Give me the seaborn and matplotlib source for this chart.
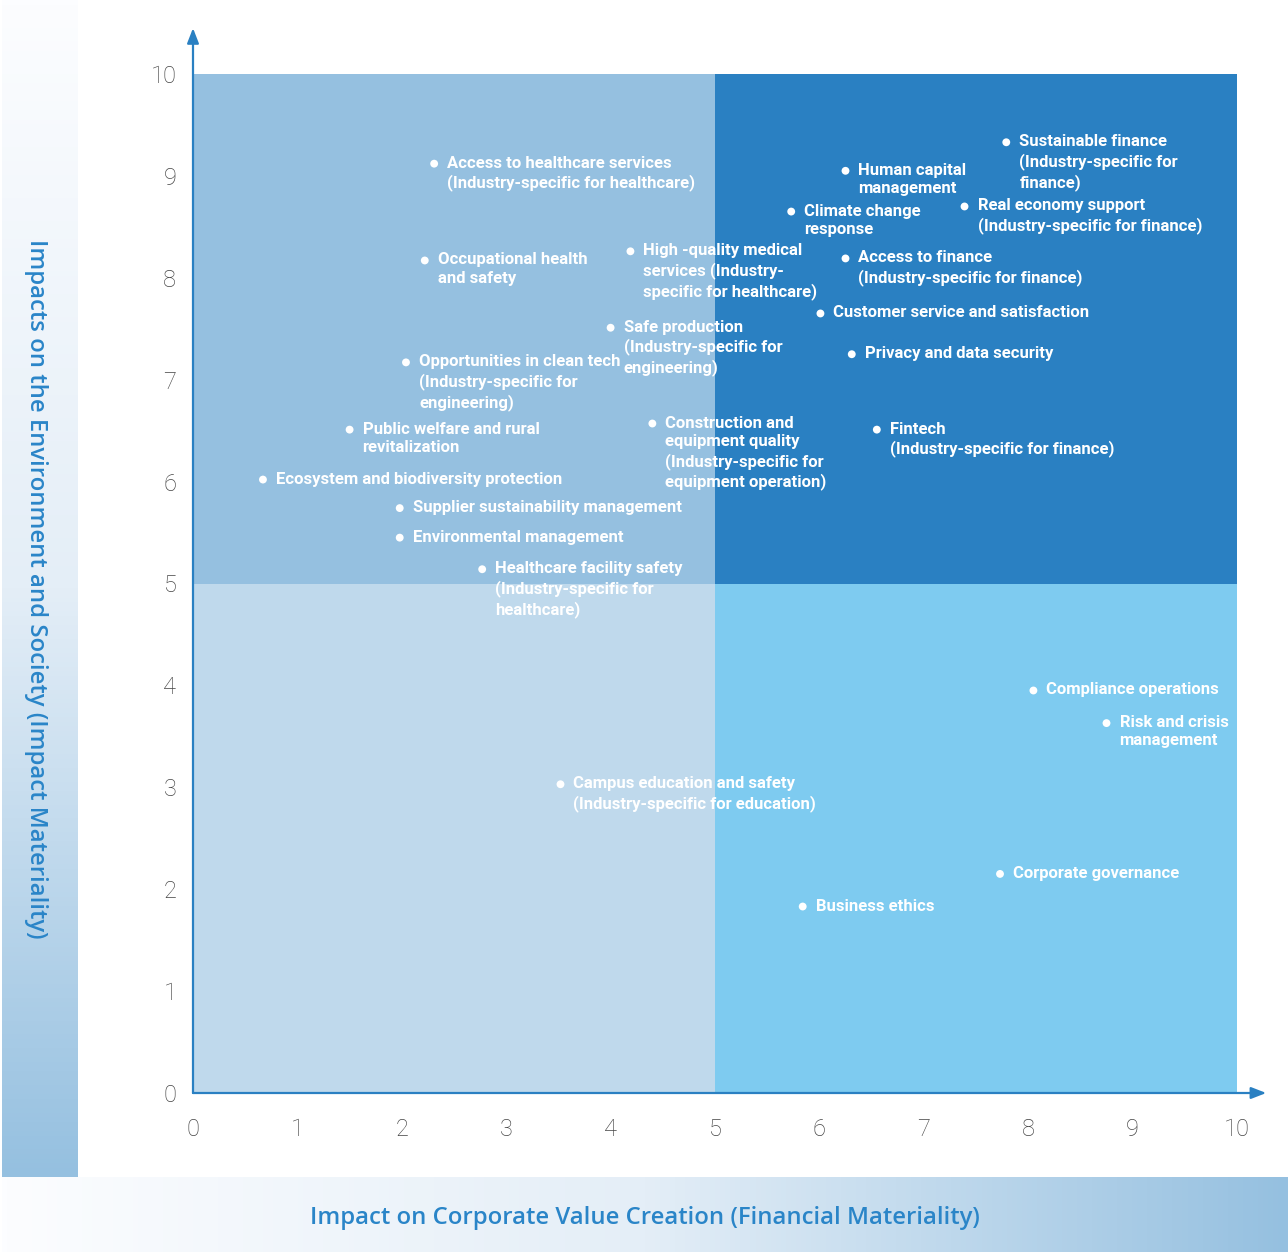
import numpy as np
import pandas as pd
import matplotlib
matplotlib.use("Agg")
import matplotlib.pyplot as plt
import seaborn as sns
from matplotlib.colors import LinearSegmentedColormap

# ----------------------------
# Data
# ----------------------------
topics = [
    "Access to healthcare services\n(Industry-specific for healthcare)",
    "Occupational health\nand safety",
    "Opportunities in clean tech\n(Industry-specific for\nengineering)",
    "Public welfare and rural\nrevitalization",
    "Ecosystem and biodiversity protection",
    "Supplier sustainability management",
    "Environmental management",
    "Healthcare facility safety\n(Industry-specific for\nhealthcare)",
    "Campus education and safety\n(Industry-specific for education)",
    "High -quality medical\nservices (Industry-\nspecific for healthcare)",
    "Safe production\n(Industry-specific for\nengineering)",
    "Construction and\nequipment quality\n(Industry-specific for\nequipment operation)",
    "Human capital\nmanagement",
    "Climate change\nresponse",
    "Sustainable finance\n(Industry-specific for\nfinance)",
    "Real economy support\n(Industry-specific for finance)",
    "Access to finance\n(Industry-specific for finance)",
    "Customer service and satisfaction",
    "Privacy and data security",
    "Fintech\n(Industry-specific for finance)",
    "Compliance operations",
    "Risk and crisis\nmanagement",
    "Corporate governance",
    "Business ethics",
]
financial = [2.31, 2.22, 2.04, 1.50, 0.67, 1.98, 1.98, 2.77, 3.52,
             4.19, 4.00, 4.40, 6.25, 5.73, 7.79, 7.39, 6.25, 6.01,
             6.31, 6.55, 8.05, 8.75, 7.73, 5.84]
impact = [9.12, 8.17, 7.17, 6.51, 6.02, 5.74, 5.45, 5.14, 3.03,
          8.26, 7.51, 6.57, 9.05, 8.65, 9.33, 8.70, 8.19, 7.65,
          7.25, 6.51, 3.95, 3.63, 2.15, 1.83]

ticks = list(range(0, 11))
quad_x = [(0, 5), (5, 10), (0, 5), (5, 10)]
quad_y = [(5, 10), (5, 10), (0, 5), (0, 5)]
quad_colors = ["#95c0e0", "#2a80c2", "#bfd9ec", "#7ecbf0"]

df = pd.DataFrame({"topic": topics, "financial": financial, "impact": impact})

# ----------------------------
# Figure
# ----------------------------
sns.set_style("white")
plt.rcParams['font.family'] = ['Roboto', 'DejaVu Sans']

W, H = 1288, 1252
fig = plt.figure(figsize=(W / 100, H / 100), dpi=100)

band_cmap = LinearSegmentedColormap.from_list("band", ["#fcfdff", "#e4eef7", "#95c0e0"])
label_font = dict(fontsize=17.2, color="#2a85c8", fontweight="semibold",
                  family=["Open Sans", "DejaVu Sans"])

# left gradient band (y label)
ax_l = fig.add_axes([2 / W, 1 - 1177 / H, 76 / W, 1177 / H])
ax_l.imshow(np.linspace(0, 1, 256).reshape(-1, 1), aspect="auto", cmap=band_cmap)
ax_l.set_axis_off()
ax_l.text(0.45, 0.5, "Impacts on the Environment and Society (Impact Materiality)",
          transform=ax_l.transAxes, rotation=-90, ha="center", va="center",
          **label_font)

# bottom gradient band (x label)
ax_b = fig.add_axes([2 / W, 0, 1286 / W, 75 / H])
ax_b.imshow(np.linspace(0, 1, 256).reshape(1, -1), aspect="auto", cmap=band_cmap)
ax_b.set_axis_off()
ax_b.text(643 / 1286, 0.46, "Impact on Corporate Value Creation (Financial Materiality)",
          transform=ax_b.transAxes, ha="center", va="center", **label_font)

# main matrix
ax = fig.add_axes([193 / W, 1 - 1093 / H, 1044 / W, 1019 / H])
for (x0, x1), (y0, y1), c in zip(quad_x, quad_y, quad_colors):
    ax.fill_between([x0, x1], y0, y1, color=c, linewidth=0, zorder=0)

sns.scatterplot(data=df, x="financial", y="impact", ax=ax, color="white",
                s=32, edgecolor="none", zorder=3, legend=False)

for _, r in df.iterrows():
    ax.annotate(r["topic"], (r["financial"], r["impact"]),
                xytext=(13, 8), textcoords="offset pixels",
                ha="left", va="top", color="white", fontsize=12,
                fontweight="bold", linespacing=1.28, zorder=4)

ax.set_xlim(0, 10)
ax.set_ylim(0, 10)
ax.set_xticks(ticks)
ax.set_yticks(ticks)
ax.tick_params(axis="both", length=0, labelsize=17, labelcolor="#444444")
ax.tick_params(axis="x", pad=18)
ax.tick_params(axis="y", pad=12)
for lab in ax.get_xticklabels() + ax.get_yticklabels():
    lab.set_fontweight("light")
ax.set_xlabel("")
ax.set_ylabel("")
for s in ax.spines.values():
    s.set_visible(False)

# axis arrows
ax.annotate("", xy=(0, 1.045), xytext=(0, 0), xycoords="axes fraction",
            arrowprops=dict(arrowstyle="-|>,head_length=0.9,head_width=0.35",
                            color="#2a80c2", lw=1.6, shrinkA=0, shrinkB=0),
            annotation_clip=False)
ax.annotate("", xy=(1.028, 0), xytext=(0, 0), xycoords="axes fraction",
            arrowprops=dict(arrowstyle="-|>,head_length=0.9,head_width=0.35",
                            color="#2a80c2", lw=1.6, shrinkA=0, shrinkB=0),
            annotation_clip=False)

fig.savefig("out.png", dpi=100)
